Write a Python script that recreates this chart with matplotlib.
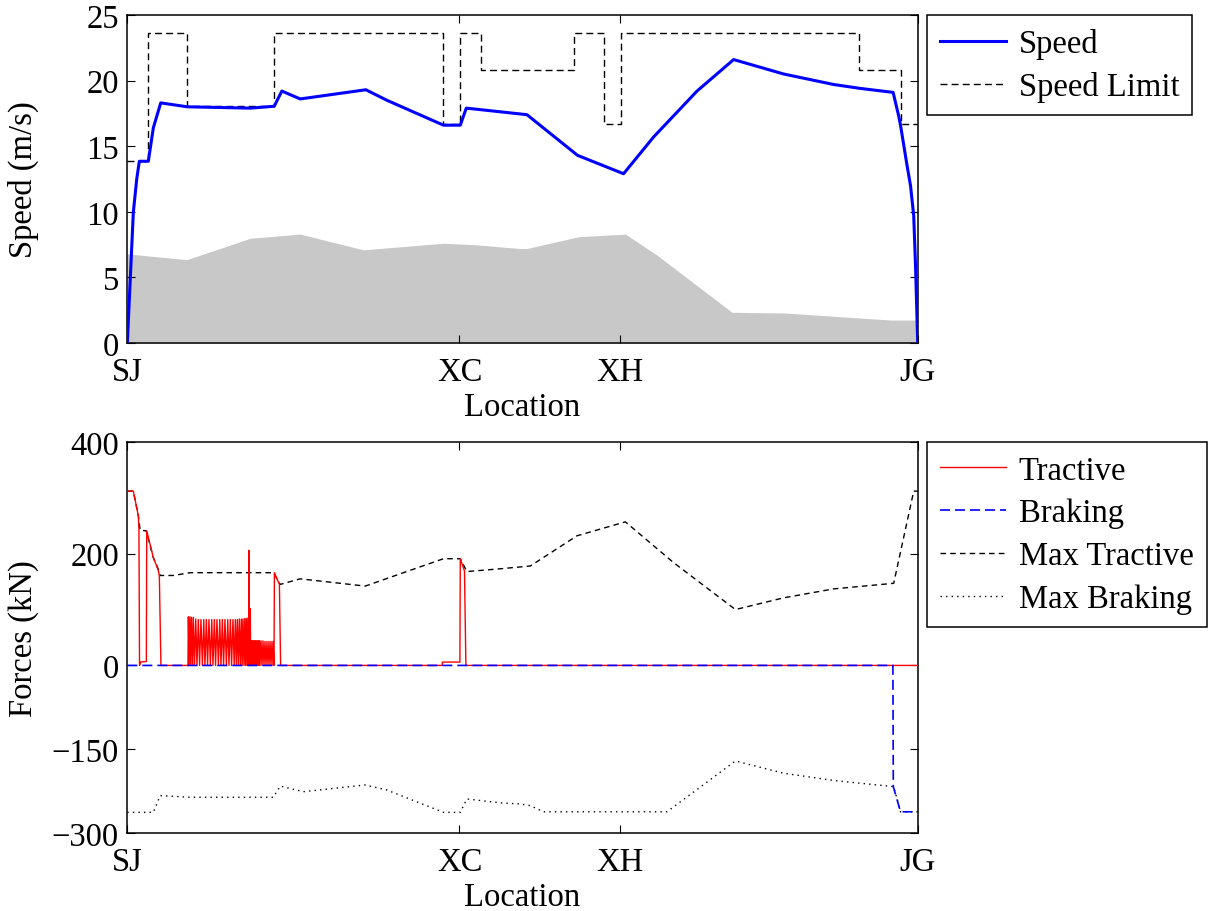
import numpy as np
import matplotlib.pyplot as plt

plt.rcParams['font.family'] = ['Liberation Serif', 'DejaVu Serif']
plt.rcParams['font.size'] = 23.5

# stations (location in m)
station_loc = [0, 1660, 2460, 3950]
station_name = ['SJ', 'XC', 'XH', 'JG']

# speed limit (km/h), steps start at each boundary
limit_loc = [0, 105, 300, 732, 1577, 1663, 1767, 2230, 2383, 2467, 3658, 3868, 3950]
limit_kmh = [50, 85, 65, 85, 60, 85, 75, 85, 60, 85, 75, 60, 60]

# train speed (m/s)
speed_loc = [0, 30, 47, 60, 105, 130, 167, 300, 614, 734, 772, 864, 1192, 1297,
             1580, 1664, 1694, 1997, 2250, 2480, 2630, 2847, 3030, 3280, 3530,
             3664, 3827, 3855, 3864, 3897, 3914, 3930, 3939, 3950]
speed_ms = [0, 9.96, 12.5, 13.85, 13.85, 16.4, 18.3, 18.0, 17.9, 18.04, 19.2, 18.6,
            19.3, 18.5, 16.6, 16.6, 17.9, 17.4, 14.3, 12.9, 15.7, 19.2, 21.6, 20.5,
            19.7, 19.4, 19.1, 17.3, 16.6, 13.5, 12.0, 9.7, 5.9, 0]

# track profile (grey area)
prof_loc = [0, 97, 297, 614, 864, 1180, 1580, 1730, 1964, 1997, 2255, 2489, 2647,
            3022, 3280, 3814, 3950]
prof_h = [6.8, 6.65, 6.35, 7.98, 8.3, 7.1, 7.6, 7.5, 7.2, 7.2, 8.1, 8.3, 6.7,
          2.34, 2.29, 1.75, 1.75]

# max tractive force (kN)
maxt_loc = [0, 30, 55, 64, 94, 130, 155, 164, 230, 314, 730, 764, 864, 1189, 1380,
            1580, 1664, 1697, 1864, 2014, 2247, 2489, 2730, 3039, 3280, 3530, 3830,
            3930, 3950]
maxt_kn = [312, 312, 268, 242, 241, 193, 172, 161, 161, 166, 166, 145, 155, 142, 166,
           191, 191, 168, 173, 178, 232, 257, 184, 100, 121, 137, 147, 312, 312]

# max braking force (kN)
maxb_loc = [0, 130, 164, 314, 730, 764, 880, 1189, 1297, 1580, 1664, 1697, 1864,
            1964, 2014, 2080, 2697, 3039, 3280, 3530, 3830, 3864, 3950]
maxb_kn = [-263, -263, -233, -236, -236, -216, -226, -214, -223, -263, -263, -239,
           -246, -248, -251, -262, -262, -171, -193, -206, -217, -262, -262]

# applied braking force (kN)
brake_loc = [0, 3826, 3828, 3864, 3950]
brake_kn = [0, 0, -217, -262, -262]

# applied tractive force (kN), piece by piece
trac_start = [(0, 312), (30, 312), (55, 268), (58, 244), (61, 0), (66, 6), (95, 7),
              (97, 241), (130, 193), (155, 170), (160, 160), (168, 0), (303, 0)]
trac_osc = [(305, 87), (309, 0), (313, 87), (317, 0), (321, 86), (326, 0), (330, 86),
            (336, 0), (342, 83), (348, 0), (355, 82), (361, 0), (368, 82), (375, 0),
            (382, 82), (388, 0), (395, 82), (401, 0), (408, 82), (415, 0), (422, 82),
            (428, 0), (435, 82), (441, 0), (448, 82), (455, 0), (462, 82), (468, 0),
            (475, 82), (481, 0), (488, 82), (495, 0), (502, 82), (508, 0), (515, 82),
            (521, 0), (528, 82), (534, 0), (540, 82), (545, 0), (550, 82), (555, 0),
            (560, 83), (565, 0), (570, 83), (574, 0), (578, 83), (583, 0), (587, 84),
            (591, 0), (595, 84), (599, 0), (603, 85), (606, 0)]
trac_dense = [(608, 206), (611, 0), (614, 102), (617, 0), (618, 44), (621, 0),
              (624, 44), (627, 0), (630, 44), (633, 0), (636, 44), (639, 0), (642, 44),
              (645, 0), (648, 44), (651, 0), (654, 44), (657, 0), (660, 44), (663, 0),
              (668, 44), (673, 0), (678, 44), (683, 0), (688, 43), (693, 0), (698, 43),
              (703, 0), (708, 43), (713, 0), (718, 43), (723, 0), (728, 43), (733, 0),
              (735, 166), (760, 145), (766, 0)]
trac_xc = [(1573, 0), (1575, 6), (1662, 6), (1664, 191), (1685, 169), (1692, 0),
           (3950, 0)]

trac = np.array(trac_start + trac_osc + trac_dense + trac_xc)

fig = plt.figure(figsize=(12.08, 9.12), dpi=100)
ax1 = fig.add_axes([0.1054, 0.6228, 0.6543, 0.3597])
ax2 = fig.add_axes([0.1054, 0.0855, 0.6543, 0.4288])

# top: speed
ax1.fill_between(prof_loc, 0, prof_h, color='#c8c8c8', lw=0, zorder=1)
ax1.plot(speed_loc, speed_ms, color='#0000ff', lw=2.2, label='Speed', zorder=3)
ax1.plot(limit_loc, np.array(limit_kmh) / 3.6, color='k', lw=1, dashes=(5, 3),
         drawstyle='steps-post', label='Speed Limit', zorder=2)
ax1.set_ylim(0, 25)
ax1.set_yticks([0, 5, 10, 15, 20, 25])
ax1.set_ylabel('Speed (m/s)')

# bottom: forces
ax2.plot(trac[:, 0], trac[:, 1], color='#ff0000', lw=1, label='Tractive', zorder=3)
ax2.plot(brake_loc, brake_kn, color='#0000ff', lw=1.2, dashes=(6, 3),
         label='Braking', zorder=4)
ax2.plot(maxt_loc, maxt_kn, color='k', lw=1, dashes=(4, 3), label='Max Tractive',
         zorder=2)
ax2.plot(maxb_loc, maxb_kn, color='k', lw=1, dashes=(1, 3), label='Max Braking',
         zorder=2)
ax2.set_ylim(-300, 400)
ax2.set_yticks([-300, -150, 0, 200, 400])
ax2.set_ylabel('Forces (kN)')

for ax in (ax1, ax2):
    ax.set_xlim(0, 3950)
    ax.set_xticks(station_loc)
    ax.set_xticklabels(station_name)
    ax.set_xlabel('Location', labelpad=3)
    ax.tick_params(direction='in', top=True, right=True, length=6, width=0.8)
    ax.tick_params(axis='y', pad=6)
    ax.tick_params(axis='x', pad=10)
    for s in ax.spines.values():
        s.set_linewidth(1.1)
    ax.yaxis.set_label_coords(-0.112, 0.5)
    leg = ax.legend(loc='upper left', bbox_to_anchor=(1.012, 1.0), fancybox=False,
                    edgecolor='k', framealpha=1, handlelength=2.0,
                    borderaxespad=0, labelspacing=0.38, borderpad=0.4,
                    handletextpad=0.4)
    leg.get_frame().set_linewidth(1.1)

fig.savefig('out.png', dpi=100)
